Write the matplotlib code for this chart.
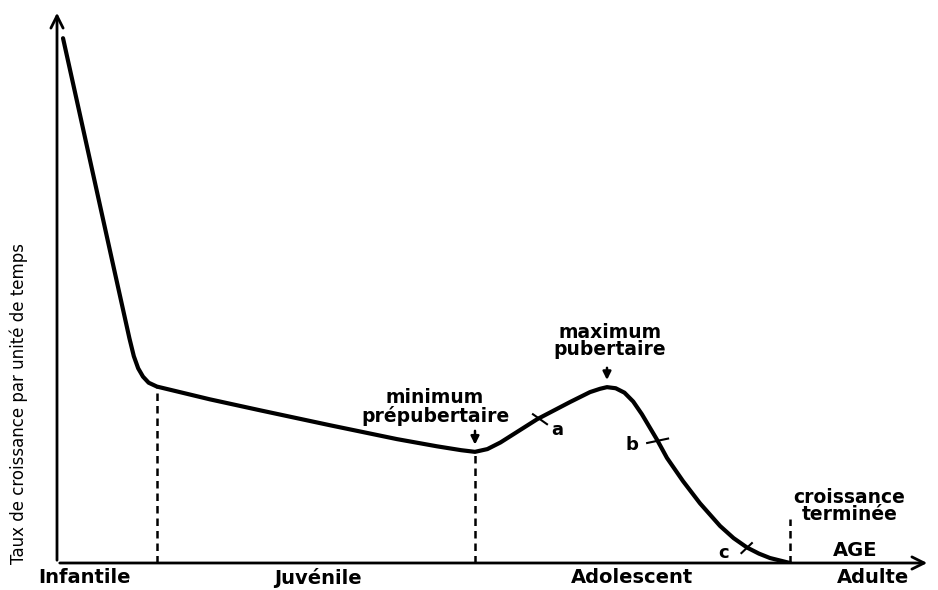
import matplotlib

matplotlib.use("Agg")
import matplotlib.pyplot as plt

# growth curve (arbitrary units: age 0-100, rate 0-100)
age = [0.69, 2.5, 4.5, 6.5, 8.3, 8.8, 9.3, 9.85, 10.5, 11.45,
       17.5, 23.3, 31.3, 38.95, 43.53, 46.3, 47.88, 49.3, 50.8, 52.5, 55.0,
       58.76, 61.05, 62.2, 63.0, 64.0, 65.0, 66.0, 67.0, 68.73, 69.87, 71.71,
       73.65, 75.95, 77.5, 79.04, 80.4, 81.67, 83.96]
rate = [94.9, 82.0, 67.7, 53.4, 40.6, 37.4, 35.2, 33.7, 32.6, 31.9,
        29.6, 27.6, 24.9, 22.4, 21.1, 20.4, 20.1, 20.6, 21.8, 23.5, 26.0,
        29.1, 30.9, 31.5, 31.8, 31.6, 30.8, 29.2, 26.9, 22.3, 19.0, 14.8,
        10.8, 6.7, 4.5, 2.8, 1.7, 0.9, 0.0]

phase_bounds = [11.45, 47.88, 83.96]
phase_tops = [31.9, 20.1, 8.0]
phase_labels = ["Infantile", "Juvénile", "Adolescent", "Adulte"]
phase_label_x = [3.2, 29.9, 65.9, 93.5]

mark_labels = ["a", "b", "c"]
mark_label_pos = [(57.3, 24.1), (65.86, 21.3), (76.4, 1.8)]
mark_ticks = [((54.52, 56.13), (26.9, 25.1)),
              ((67.6, 70.0), (21.7, 22.5)),
              ((78.4, 79.6), (1.8, 3.6))]

fig = plt.figure(figsize=(9.38, 5.9), dpi=100)
ax = fig.add_axes([57 / 938, 27 / 590, 873 / 938, 553 / 590])
ax.set_xlim(0, 100)
ax.set_ylim(0, 100)
ax.axis("off")

# axes drawn as arrows
arrow_kw = dict(arrowstyle="->", lw=2, color="black", mutation_scale=22)
ax.annotate("", xy=(100, 0), xytext=(0, 0), arrowprops=arrow_kw, annotation_clip=False)
ax.annotate("", xy=(0, 100), xytext=(0, 0), arrowprops=arrow_kw, annotation_clip=False)

ax.plot(age, rate, color="black", lw=3.0, solid_capstyle="round", solid_joinstyle="round")

# dashed phase boundaries
for x, top in zip(phase_bounds, phase_tops):
    ax.plot([x, x], [0, top], color="black", lw=1.8, ls=(0, (3, 2)))

for x, label in zip(phase_label_x, phase_labels):
    ax.text(x, -2.7, label, ha="center", va="center", fontsize=14,
            fontweight="heavy", clip_on=False)

# small ticks on the curve and their letters
for (xs, ys), label, (lx, ly) in zip(mark_ticks, mark_labels, mark_label_pos):
    ax.plot(xs, ys, color="black", lw=1.5)
    ax.text(lx, ly, label, ha="center", va="center", fontsize=13, fontweight="bold")

ax.text(43.3, 28.2, "minimum\nprépubertaire", ha="center", va="center",
        fontsize=13.5, fontweight="bold", linespacing=0.9)
ax.annotate("", xy=(47.88, 20.9), xytext=(47.88, 24.4),
            arrowprops=dict(arrowstyle="-|>", lw=1.8, color="black", mutation_scale=12))

ax.text(63.35, 40.1, "maximum\npubertaire", ha="center", va="center",
        fontsize=13.5, fontweight="bold", linespacing=0.9)
ax.annotate("", xy=(63.0, 32.6), xytext=(63.0, 35.8),
            arrowprops=dict(arrowstyle="-|>", lw=1.8, color="black", mutation_scale=12))

ax.text(90.8, 10.3, "croissance\nterminée", ha="center", va="center",
        fontsize=13.5, fontweight="bold", linespacing=0.9)
ax.text(91.4, 2.35, "AGE", ha="center", va="center", fontsize=14, fontweight="bold")

fig.text(19 / 938, 1 - 403 / 590, "Taux de croissance par unité de temps",
         rotation=90, ha="center", va="center", fontsize=12)

fig.savefig("out.png", dpi=100)
